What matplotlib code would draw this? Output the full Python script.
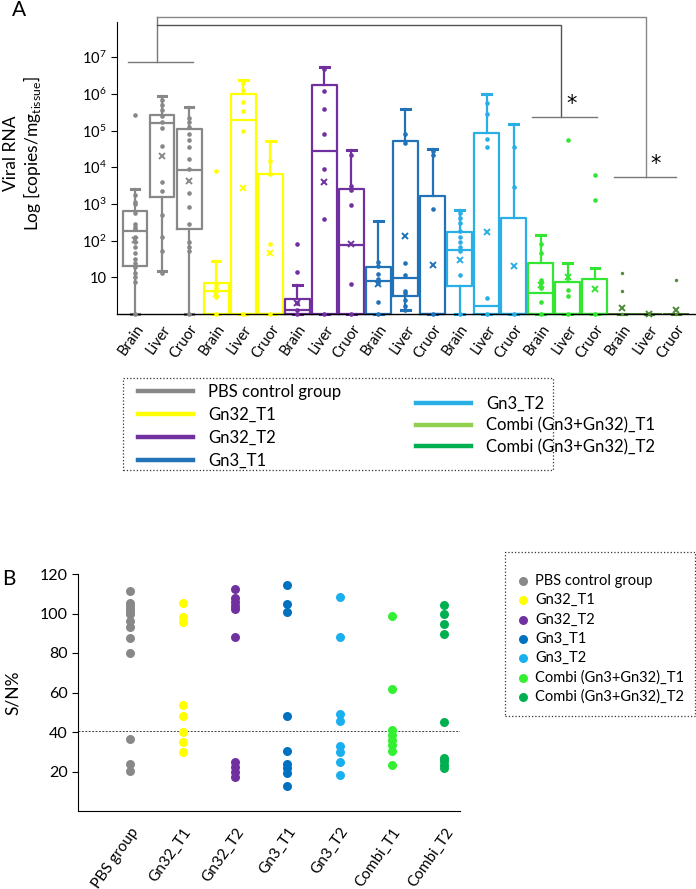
import numpy as np
import matplotlib
matplotlib.use("Agg")
import matplotlib.pyplot as plt
from matplotlib.lines import Line2D
from matplotlib.patches import Rectangle

plt.rcParams['font.family'] = ['Lato', 'DejaVu Sans']
plt.rcParams['mathtext.fontset'] = 'custom'
plt.rcParams['mathtext.rm'] = 'Lato'

# ---- panel A data (log10 of copies/mg tissue, 0 = none detected) ----
groups = ['PBS control group', 'Gn32_T1', 'Gn32_T2', 'Gn3_T1', 'Gn3_T2',
          'Combi (Gn3+Gn32)_T1', 'Combi (Gn3+Gn32)_T2']
tissues = ['Brain', 'Liver', 'Cruor']
box_colors = ['#888888', '#FFFF00', '#7030A0', '#2272B8', '#2AAEE6', '#33E633', '#4F8A3A']
legend_a_colors = ['#888888', '#FFFF00', '#7030A0', '#2272B8', '#2AAEE6', '#92D050', '#00B050']

q1_log = [1.32, 3.20, 2.33, 0, 0, 0, 0, 0, 0, 0, 0.49, 0, 0.77, 0, 0, 0, 0, 0, 0, 0, 0]
med_log = [2.27, 5.21, 3.92, 0.63, 5.29, 0, 0.10, 4.43, 1.89, 0.90, 0.97, 0, 1.74, 0.22, 0, 0.58, 0, 0, 0, 0, 0]
q3_log = [2.80, 5.42, 5.03, 0.85, 6.01, 3.83, 0.42, 6.23, 3.42, 1.27, 4.71, 3.21, 2.24, 4.94, 2.61, 1.40, 0.86, 0.95, 0, 0, 0]
lo_log = [0, 1.17, 0, 0, 0, 0, 0, 0, 0, 0, 0.10, 0, 0, 0, 0, 0, 0, 0, 0, 0, 0]
hi_log = [3.40, 5.95, 5.65, 1.44, 6.39, 4.72, 0.79, 6.74, 4.47, 2.53, 5.58, 4.51, 2.84, 5.99, 5.19, 2.16, 1.40, 1.26, 0, 0, 0]
mean_log = [2.02, 4.30, 3.63, 0.55, 3.44, 1.65, 0.30, 3.60, 1.92, 0.81, 2.13, 1.33, 1.47, 2.24, 1.32, 0.79, 1.02, 0.68, 0.16, 0.0, 0.11]

points_log = [
    [5.43, 3.24, 3.06, 2.99, 2.74, 2.45, 2.38, 2.31, 2.11, 1.97, 1.83, 1.65, 1.49, 1.38, 1.27, 1.11, 1.02, 0.87, 0],
    [5.83, 5.69, 5.56, 5.39, 5.24, 5.08, 4.58, 3.59, 3.35, 2.70, 2.09, 1.71, 1.13],
    [5.33, 5.24, 5.10, 4.90, 4.74, 4.56, 4.22, 3.94, 3.31, 2.93, 2.45, 1.97, 1.83, 1.71, 0],
    [3.90, 0.80, 0.72, 0.45, 0],
    [6.29, 6.10, 5.79, 5.54, 5.00, 0],
    [4.18, 3.83, 1.91, 0],
    [1.91, 1.14, 0.31, 0.11, 0],
    [6.69, 6.08, 5.59, 4.92, 3.95, 2.59, 0],
    [4.33, 3.49, 3.38, 2.98, 0.82, 0],
    [1.43, 1.31, 1.09, 0.95, 0.84, 0.34, 0],
    [4.92, 4.65, 1.40, 1.06, 0.63, 0.56, 0.38, 0.23, 0.11],
    [4.45, 4.33, 2.86, 0],
    [2.74, 2.61, 2.47, 2.25, 2.11, 1.97, 1.83, 1.72, 1.05, 0],
    [5.74, 5.45, 4.76, 4.54, 0.43, 0],
    [4.56, 3.47, 0],
    [1.90, 1.65, 0.93, 0.86, 0.70, 0.32, 0],
    [4.74, 0.66, 0.49, 0],
    [3.80, 3.12, 0],
    [1.13, 0.64, 0],
    [0],
    [0.93, 0],
]

# ---- panel B data (S/N %) ----
b_labels = ['PBS group', 'Gn32_T1', 'Gn32_T2', 'Gn3_T1', 'Gn3_T2', 'Combi_T1', 'Combi_T2']
b_colors = ['#888888', '#FFFF00', '#7030A0', '#0070C0', '#1AB0F0', '#33F033', '#00B050']
sn_pbs = [111.5, 105.5, 104, 102.5, 101, 99.5, 96, 93, 87.5, 80, 36.5, 24, 20.5]
sn_gn32_t1 = [105.5, 98, 95.5, 53.5, 48, 40, 35, 30]
sn_gn32_t2 = [112.5, 108, 106, 104, 102.5, 88, 25, 22.5, 20, 17]
sn_gn3_t1 = [114.5, 105, 101, 48, 30.5, 24, 22, 19, 12.5]
sn_gn3_t2 = [108.5, 88, 49, 45.5, 33, 30, 25, 18]
sn_combi_t1 = [98.5, 62, 41, 38.5, 36, 33.5, 30.5, 23.5]
sn_combi_t2 = [104.5, 99.5, 94.5, 89.5, 45, 27, 25.5, 23.5, 22]
sn_values = [sn_pbs, sn_gn32_t1, sn_gn32_t2, sn_gn3_t1, sn_gn3_t2, sn_combi_t1, sn_combi_t2]
cutoff = 40.5

fig = plt.figure(figsize=(6.96, 8.89), dpi=100)

# ================= panel A =================
ax = fig.add_axes([117 / 696, 1 - 314 / 889, (696 - 117) / 696, (314 - 22) / 889])
ax.set_yscale('log')
n = len(q1_log)
for i in range(n):
    col = box_colors[i // 3]
    st = dict(q1=10 ** q1_log[i], med=10 ** med_log[i], q3=10 ** q3_log[i],
              whislo=10 ** lo_log[i], whishi=10 ** hi_log[i], mean=10 ** mean_log[i], fliers=[])
    lw = 1.6 if i < 18 else 1.2
    arts = ax.bxp([st], positions=[i], widths=0.92, showmeans=True, showfliers=False,
                  capwidths=[0.32],
                  boxprops=dict(color=col, linewidth=lw),
                  medianprops=dict(color=col, linewidth=lw),
                  whiskerprops=dict(color=col, linewidth=lw),
                  capprops=dict(color=col, linewidth=2.2),
                  meanprops=dict(marker='x', markeredgecolor=col, markersize=4, markeredgewidth=1.4))
    for k in arts:
        for a in arts[k]:
            a.set_clip_on(False)
    ys = np.power(10.0, points_log[i])
    ax.scatter(np.full(len(ys), i), ys, s=11 if i < 18 else 6, color=col, zorder=3,
               clip_on=False, linewidths=0)

ax.set_xlim(-0.665, 20.74)
ax.set_ylim(1, 10 ** 7.96)
ax.set_yticks([10 ** k for k in range(1, 8)])
ax.set_yticklabels(['10'] + [r'$\mathregular{10^{%d}}$' % k for k in range(2, 8)])
ax.yaxis.set_minor_locator(matplotlib.ticker.NullLocator())
ax.set_xticks(range(n))
ax.set_xticklabels(tissues * 7, rotation=55, ha='right', rotation_mode='anchor', fontsize=10.5)
ax.tick_params(axis='x', length=0, pad=6)
ax.tick_params(axis='y', labelsize=10.5, length=4, width=0.8)
ax.spines['top'].set_visible(False)
ax.spines['right'].set_visible(False)
ax.spines['left'].set_linewidth(0.8)
ax.spines['bottom'].set_linewidth(1.0)
ax.set_ylabel('Viral RNA\nLog [copies/mg$_{\\mathregular{tissue}}$]', fontsize=12.5,
              linespacing=1.1)
ax.yaxis.set_label_coords(-0.128, 0.55)

# significance brackets
def seg(xs, ys, c):
    ax.plot(xs, [10 ** v for v in ys], color=c, lw=1.0, clip_on=False)

seg([-0.26, 2.14], [6.87, 6.87], '#777777')
seg([0.81, 0.81], [6.87, 8.09], '#777777')
seg([0.81, 15.75, 15.75], [7.87, 7.87, 5.37], '#555555')
seg([14.68, 17.08], [5.37, 5.37], '#777777')
seg([0.81, 18.89, 18.89], [8.09, 8.09, 3.73], '#888888')
seg([17.71, 20.0], [3.73, 3.73], '#777777')
ax.text(16.15, 10 ** 5.45, '*', fontsize=15, ha='center', va='bottom', family='DejaVu Sans')
ax.text(19.26, 10 ** 3.81, '*', fontsize=15, ha='center', va='bottom', family='DejaVu Sans')

fig.text(12 / 696, 1 - 16 / 889, 'A', fontsize=15)

# legend A (two blocks inside one dotted frame)
fig.patches.append(Rectangle((123 / 696, 1 - 470 / 889), (553 - 123) / 696, (470 - 378) / 889,
                             transform=fig.transFigure, fill=False, ls=':', lw=0.9, ec='#333333'))
h_left = [Line2D([], [], color=legend_a_colors[i], lw=3.2) for i in range(4)]
h_right = [Line2D([], [], color=legend_a_colors[i], lw=3.2) for i in range(4, 7)]
leg1 = fig.legend(h_left, groups[:4], loc='upper left', bbox_to_anchor=(138 / 696, 1 - 384 / 889),
                  frameon=False, fontsize=12, handlelength=3.3, handletextpad=0.9,
                  labelspacing=0.42, borderpad=0, borderaxespad=0)
leg2 = fig.legend(h_right, groups[4:], loc='upper left', bbox_to_anchor=(416 / 696, 1 - 396 / 889),
                  frameon=False, fontsize=12, handlelength=3.3, handletextpad=0.9,
                  labelspacing=0.33, borderpad=0, borderaxespad=0)

# ================= panel B =================
bx = fig.add_axes([78 / 696, 1 - 811 / 889, (460 - 78) / 696, (811 - 574) / 889])
for i, vals in enumerate(sn_values):
    bx.scatter(np.full(len(vals), i + 1), vals, s=42, color=b_colors[i], linewidths=0,
               label=groups[i], zorder=3)
bx.axhline(cutoff, color='#444444', lw=0.7, ls=(0, (2, 1.5)))
bx.set_xlim(0, 7.3)
bx.set_ylim(0, 120)
bx.set_yticks([20, 40, 60, 80, 100, 120])
bx.set_xticks(range(1, 8))
bx.set_xticklabels(b_labels, rotation=55, ha='right', rotation_mode='anchor', fontsize=11)
bx.tick_params(axis='x', length=0, pad=10)
bx.tick_params(axis='y', labelsize=11.5, length=4, width=0.8)
bx.spines['top'].set_visible(False)
bx.spines['right'].set_visible(False)
bx.set_ylabel('S/N%', fontsize=12.5)
bx.yaxis.set_label_coords(-0.15, 0.5)
fig.text(2 / 696, 1 - 585 / 889, 'B', fontsize=15)

fig.patches.append(Rectangle((505 / 696, 1 - 716 / 889), (695 - 505) / 696, (716 - 552) / 889,
                             transform=fig.transFigure, fill=False, ls=':', lw=0.9, ec='#333333'))
legb = fig.legend(loc='upper left', bbox_to_anchor=(516 / 696, 1 - 574 / 889), fontsize=10.5,
                  frameon=False, handletextpad=0.3, labelspacing=0.36,
                  borderpad=0, borderaxespad=0, handlelength=1.0, markerscale=1.0)

plt.savefig('out.png', dpi=100)
